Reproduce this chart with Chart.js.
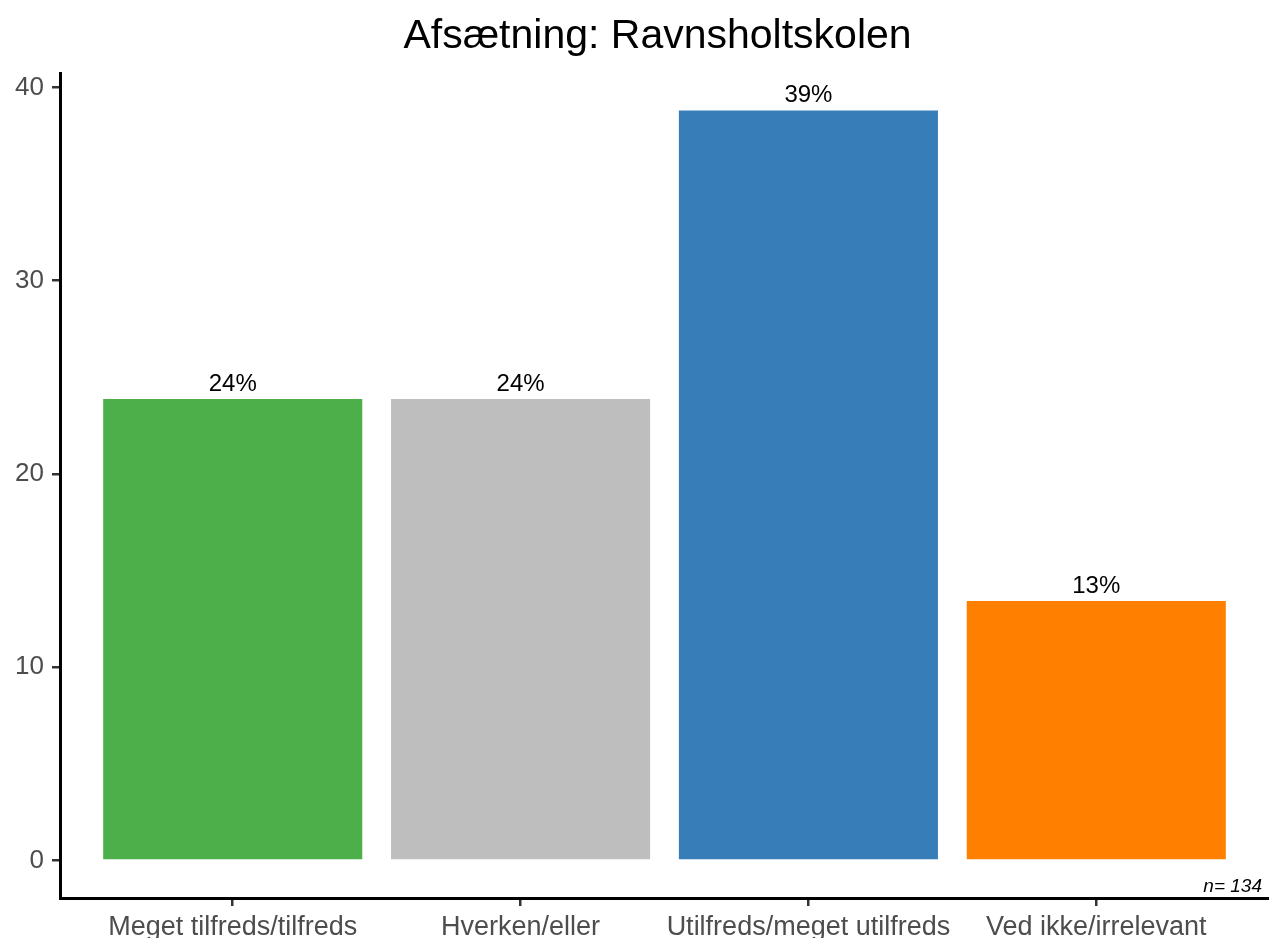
<!DOCTYPE html>
<html>
<head>
<meta charset="utf-8">
<script src="https://cdn.jsdelivr.net/npm/chart.js@4"></script>
<style>
html,body{margin:0;padding:0;background:#fff;}
#wrap{width:1269px;height:938px;position:relative;}
</style>
</head>
<body>
<div id="wrap"><canvas id="c" width="1269" height="938"></canvas></div>
<script>
const titleText = 'Afsætning: Ravnsholtskolen';
const categories = ['Meget tilfreds/tilfreds', 'Hverken/eller', 'Utilfreds/meget utilfreds', 'Ved ikke/irrelevant'];
const values = [23.88, 23.88, 38.81, 13.43];
const valueLabels = ['24%', '24%', '39%', '13%'];
const colors = ['#4DAF4A', '#BEBEBE', '#377EB8', '#FF7F00'];
const yTicks = [0, 10, 20, 30, 40];
const nText = 'n= 134';

const FONT = "'Liberation Sans', Arial, sans-serif";

const labelPlugin = {
  id: 'barLabels',
  afterDatasetsDraw(chart) {
    const ctx = chart.ctx;
    const meta = chart.getDatasetMeta(0);
    ctx.save();
    ctx.fillStyle = '#000';
    ctx.font = '24px ' + FONT;
    ctx.textAlign = 'center';
    ctx.textBaseline = 'alphabetic';
    meta.data.forEach((bar, i) => {
      ctx.fillText(valueLabels[i], bar.x, bar.y - 8);
    });
    ctx.font = 'italic 19px ' + FONT;
    ctx.textAlign = 'right';
    ctx.fillText(nText, chart.chartArea.right - 7, chart.chartArea.bottom - 6);
    // title, centred slightly right of canvas centre as in the reference
    ctx.font = '41px ' + FONT;
    ctx.textAlign = 'center';
    ctx.fillText(titleText, chart.width / 2 + 23, 48);
    ctx.restore();
  }
};

new Chart(document.getElementById('c'), {
  type: 'bar',
  data: {
    datasets: [{
      data: values.map((v, i) => ({ x: i + 1, y: v })),
      backgroundColor: colors,
      borderWidth: 0,
      barPercentage: 0.9,
      categoryPercentage: 1.0
    }]
  },
  options: {
    responsive: false,
    animation: false,
    devicePixelRatio: 1,
    layout: { padding: { left: 0, right: 0, top: 73, bottom: 0 } },
    plugins: {
      legend: { display: false },
      tooltip: { enabled: false },
      title: { display: false }
    },
    scales: {
      x: {
        type: 'linear',
        min: 0.4,
        max: 4.6,
        offset: false,
        afterBuildTicks(scale) { scale.ticks = categories.map((c, i) => ({ value: i + 1 })); },
        afterFit(scale) { scale.height = 40; },
        ticks: {
          callback: (v) => categories[v - 1],
          color: '#4D4D4D',
          font: { family: FONT, size: 27 },
          padding: 5,
          autoSkip: false,
          maxRotation: 0
        },
        grid: { offset: false, drawOnChartArea: false, drawTicks: true, tickLength: 8, color: '#333', lineWidth: 2.5 },
        border: { display: true, color: '#000', width: 3 }
      },
      y: {
        type: 'linear',
        min: -1.94,
        max: 40.75,
        afterBuildTicks(scale) { scale.ticks = yTicks.map(v => ({ value: v })); },
        afterFit(scale) { scale.width = 60; },
        ticks: {
          color: '#4D4D4D',
          font: { family: FONT, size: 26 },
          padding: 8
        },
        grid: { drawOnChartArea: false, drawTicks: true, tickLength: 8, color: '#333', lineWidth: 2.5 },
        border: { display: true, color: '#000', width: 3 }
      }
    }
  },
  plugins: [labelPlugin]
});
</script>
</body>
</html>
